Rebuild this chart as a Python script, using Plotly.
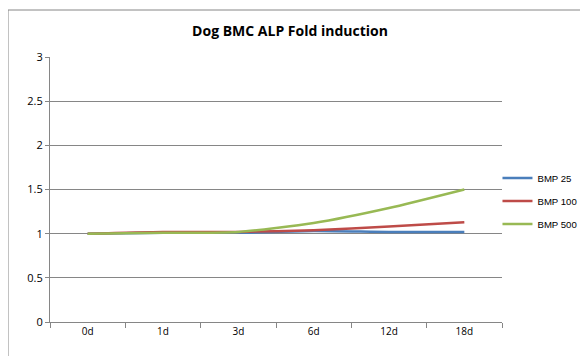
import plotly.graph_objects as go

categories = ["0d", "1d", "3d", "6d", "12d", "18d"]
bmp25 = [1.00, 1.01, 1.01, 1.03, 1.02, 1.02]
bmp100 = [1.00, 1.02, 1.02, 1.04, 1.08, 1.13]
bmp500 = [1.00, 1.01, 1.02, 1.12, 1.29, 1.50]
series_names = ["BMP 25", "BMP 100", "BMP 500"]
colors = ["#4a7ebb", "#be4b48", "#98b954"]

fig = go.Figure()
for name, vals, c in zip(series_names, [bmp25, bmp100, bmp500], colors):
    fig.add_trace(go.Scatter(x=categories, y=vals, name=name, mode="lines", legendgroup=name,
                             line=dict(color=c, width=2.5, shape="spline", smoothing=0.6)))

# page body has an 8px margin, so the figure is drawn 8px smaller and offset
W, H = 580, 348
font_family = "Open Sans, Liberation Sans, sans-serif"
fig.update_layout(
    width=W, height=H,
    margin=dict(l=42, r=86, t=49, b=34, autoexpand=False),
    paper_bgcolor="white", plot_bgcolor="white",
    font=dict(family=font_family, size=10, color="#000000"),
    title=dict(text="<b>Dog BMC ALP Fold induction</b>", x=(282 / W), xanchor="center",
               y=1 - 23 / H, yanchor="middle", font=dict(size=14, color="#000000")),
    showlegend=True,
    legend=dict(x=0.99, y=0.457, xanchor="left", yanchor="middle",
                font=dict(size=9.6, family="Liberation Sans, Arial, sans-serif"),
                tracegroupgap=4, bgcolor="rgba(0,0,0,0)", itemwidth=30),
)
fig.update_xaxes(type="category", range=[-0.5, 5.5], showgrid=False, showline=True,
                 linecolor="#868686", linewidth=1, ticks="outside", tickson="boundaries",
                 ticklen=5, tickcolor="#868686", zeroline=False, automargin=False)
fig.update_yaxes(range=[0, 3], dtick=0.5, showgrid=True, gridcolor="#868686", gridwidth=1,
                 showline=True, linecolor="#868686", linewidth=1, ticks="outside",
                 ticklen=4, tickcolor="#868686", zeroline=False, automargin=False,
                 tickfont=dict(size=11))

fig.add_shape(type="rect", xref="paper", yref="paper",
              x0=(8 - 50) / 452, x1=(600 - 50) / 452,
              y0=(322 - 370) / 265, y1=(322 - 10) / 265,
              line=dict(color="#868686", width=1), layer="below")

fig.write_html("out.html")
